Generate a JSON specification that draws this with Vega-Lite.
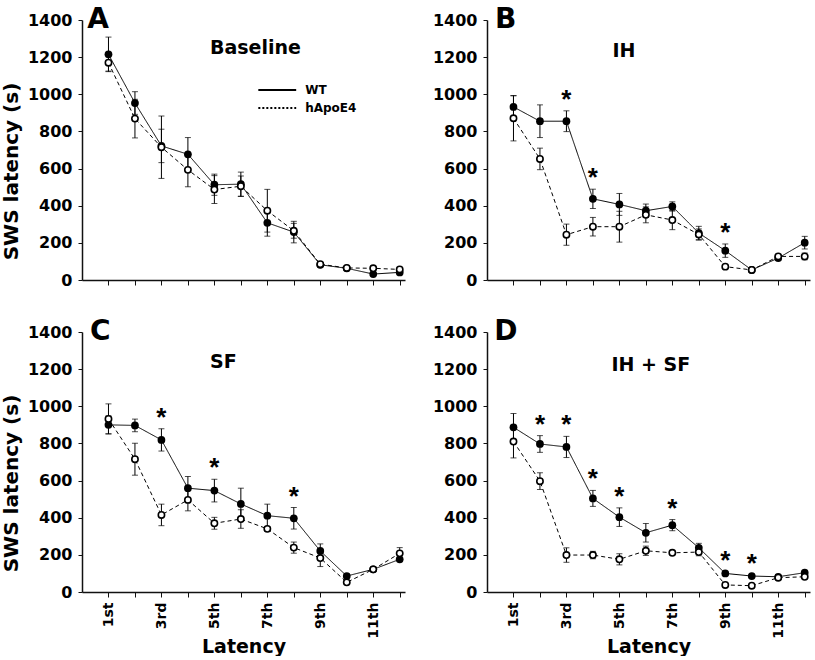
{
  "$schema": "https://vega.github.io/schema/vega-lite/v6.json",
  "padding": {"left": 1, "top": 6, "right": 0, "bottom": 0},
  "background": "white",
  "config": {
    "view": {"stroke": null},
    "axis": {"domainColor": "#111", "domainWidth": 1.5, "tickColor": "#111", "tickWidth": 1, "tickSize": 5, "grid": false,
      "labelOverlap": false, "labelBound": false,
      "labelFont": "DejaVu Sans", "labelFontWeight": "bold", "labelFontSize": 16, "labelColor": "#000",
      "titleFont": "DejaVu Sans", "titleFontWeight": "bold", "titleColor": "#000"},
    "text": {"font": "DejaVu Sans", "fontWeight": "bold", "color": "#000"}
  },
  "datasets": {
    "pts": [
      {"panel":"A","group":"WT","x":1,"mean":1215,"se":93},
      {"panel":"A","group":"WT","x":2,"mean":953,"se":61},
      {"panel":"A","group":"WT","x":3,"mean":722,"se":90},
      {"panel":"A","group":"WT","x":4,"mean":677,"se":90},
      {"panel":"A","group":"WT","x":5,"mean":513,"se":57},
      {"panel":"A","group":"WT","x":6,"mean":516,"se":65},
      {"panel":"A","group":"WT","x":7,"mean":308,"se":72},
      {"panel":"A","group":"WT","x":8,"mean":258,"se":58},
      {"panel":"A","group":"WT","x":9,"mean":82,"se":10},
      {"panel":"A","group":"WT","x":10,"mean":63,"se":8},
      {"panel":"A","group":"WT","x":11,"mean":32,"se":8},
      {"panel":"A","group":"WT","x":12,"mean":41,"se":8},
      {"panel":"A","group":"hApoE4","x":1,"mean":1170,"se":45},
      {"panel":"A","group":"hApoE4","x":2,"mean":869,"se":104},
      {"panel":"A","group":"hApoE4","x":3,"mean":715,"se":168},
      {"panel":"A","group":"hApoE4","x":4,"mean":593,"se":91},
      {"panel":"A","group":"hApoE4","x":5,"mean":487,"se":75},
      {"panel":"A","group":"hApoE4","x":6,"mean":505,"se":55},
      {"panel":"A","group":"hApoE4","x":7,"mean":373,"se":115},
      {"panel":"A","group":"hApoE4","x":8,"mean":265,"se":40},
      {"panel":"A","group":"hApoE4","x":9,"mean":85,"se":8},
      {"panel":"A","group":"hApoE4","x":10,"mean":65,"se":8},
      {"panel":"A","group":"hApoE4","x":11,"mean":63,"se":8},
      {"panel":"A","group":"hApoE4","x":12,"mean":57,"se":8},
      {"panel":"B","group":"WT","x":1,"mean":932,"se":60},
      {"panel":"B","group":"WT","x":2,"mean":855,"se":88},
      {"panel":"B","group":"WT","x":3,"mean":855,"se":56,"sig":true},
      {"panel":"B","group":"WT","x":4,"mean":437,"se":52,"sig":true},
      {"panel":"B","group":"WT","x":5,"mean":407,"se":59},
      {"panel":"B","group":"WT","x":6,"mean":373,"se":36},
      {"panel":"B","group":"WT","x":7,"mean":396,"se":25},
      {"panel":"B","group":"WT","x":8,"mean":253,"se":36},
      {"panel":"B","group":"WT","x":9,"mean":158,"se":36,"sig":true},
      {"panel":"B","group":"WT","x":10,"mean":54,"se":8},
      {"panel":"B","group":"WT","x":11,"mean":118,"se":12},
      {"panel":"B","group":"WT","x":12,"mean":201,"se":34},
      {"panel":"B","group":"hApoE4","x":1,"mean":871,"se":122},
      {"panel":"B","group":"hApoE4","x":2,"mean":652,"se":58},
      {"panel":"B","group":"hApoE4","x":3,"mean":244,"se":57},
      {"panel":"B","group":"hApoE4","x":4,"mean":287,"se":50},
      {"panel":"B","group":"hApoE4","x":5,"mean":287,"se":83},
      {"panel":"B","group":"hApoE4","x":6,"mean":351,"se":43},
      {"panel":"B","group":"hApoE4","x":7,"mean":323,"se":52},
      {"panel":"B","group":"hApoE4","x":8,"mean":245,"se":30},
      {"panel":"B","group":"hApoE4","x":9,"mean":72,"se":10},
      {"panel":"B","group":"hApoE4","x":10,"mean":54,"se":8},
      {"panel":"B","group":"hApoE4","x":11,"mean":127,"se":12},
      {"panel":"B","group":"hApoE4","x":12,"mean":127,"se":18},
      {"panel":"C","group":"WT","x":1,"mean":900,"se":48},
      {"panel":"C","group":"WT","x":2,"mean":897,"se":34},
      {"panel":"C","group":"WT","x":3,"mean":819,"se":60,"sig":true},
      {"panel":"C","group":"WT","x":4,"mean":559,"se":63},
      {"panel":"C","group":"WT","x":5,"mean":546,"se":61,"sig":true},
      {"panel":"C","group":"WT","x":6,"mean":474,"se":85},
      {"panel":"C","group":"WT","x":7,"mean":411,"se":62},
      {"panel":"C","group":"WT","x":8,"mean":397,"se":58,"sig":true},
      {"panel":"C","group":"WT","x":9,"mean":221,"se":38},
      {"panel":"C","group":"WT","x":10,"mean":86,"se":10},
      {"panel":"C","group":"WT","x":11,"mean":122,"se":10},
      {"panel":"C","group":"WT","x":12,"mean":176,"se":10},
      {"panel":"C","group":"hApoE4","x":1,"mean":932,"se":81},
      {"panel":"C","group":"hApoE4","x":2,"mean":715,"se":86},
      {"panel":"C","group":"hApoE4","x":3,"mean":415,"se":58},
      {"panel":"C","group":"hApoE4","x":4,"mean":496,"se":59},
      {"panel":"C","group":"hApoE4","x":5,"mean":370,"se":32},
      {"panel":"C","group":"hApoE4","x":6,"mean":393,"se":50},
      {"panel":"C","group":"hApoE4","x":7,"mean":340,"se":12},
      {"panel":"C","group":"hApoE4","x":8,"mean":239,"se":30},
      {"panel":"C","group":"hApoE4","x":9,"mean":183,"se":46},
      {"panel":"C","group":"hApoE4","x":10,"mean":52,"se":10},
      {"panel":"C","group":"hApoE4","x":11,"mean":122,"se":10},
      {"panel":"C","group":"hApoE4","x":12,"mean":208,"se":31},
      {"panel":"D","group":"WT","x":1,"mean":887,"se":74},
      {"panel":"D","group":"WT","x":2,"mean":797,"se":45,"sig":true},
      {"panel":"D","group":"WT","x":3,"mean":781,"se":57,"sig":true},
      {"panel":"D","group":"WT","x":4,"mean":504,"se":43,"sig":true},
      {"panel":"D","group":"WT","x":5,"mean":403,"se":50,"sig":true},
      {"panel":"D","group":"WT","x":6,"mean":319,"se":50},
      {"panel":"D","group":"WT","x":7,"mean":360,"se":30,"sig":true},
      {"panel":"D","group":"WT","x":8,"mean":238,"se":24},
      {"panel":"D","group":"WT","x":9,"mean":100,"se":10,"sig":true},
      {"panel":"D","group":"WT","x":10,"mean":86,"se":8,"sig":true},
      {"panel":"D","group":"WT","x":11,"mean":82,"se":8},
      {"panel":"D","group":"WT","x":12,"mean":104,"se":8},
      {"panel":"D","group":"hApoE4","x":1,"mean":810,"se":88},
      {"panel":"D","group":"hApoE4","x":2,"mean":597,"se":45},
      {"panel":"D","group":"hApoE4","x":3,"mean":199,"se":39},
      {"panel":"D","group":"hApoE4","x":4,"mean":199,"se":20},
      {"panel":"D","group":"hApoE4","x":5,"mean":176,"se":30},
      {"panel":"D","group":"hApoE4","x":6,"mean":222,"se":25},
      {"panel":"D","group":"hApoE4","x":7,"mean":211,"se":10},
      {"panel":"D","group":"hApoE4","x":8,"mean":215,"se":20},
      {"panel":"D","group":"hApoE4","x":9,"mean":38,"se":8},
      {"panel":"D","group":"hApoE4","x":10,"mean":34,"se":8},
      {"panel":"D","group":"hApoE4","x":11,"mean":77,"se":8},
      {"panel":"D","group":"hApoE4","x":12,"mean":82,"se":8}
    ]
  },
  "columns": 2,
  "spacing": {"row": 52, "column": 82},
  "bounds": "flush",
  "concat": [
    {
      "width": 323, "height": 260,
      "data": {"name": "pts"},
      "encoding": {
        "x": {"field": "x", "type": "quantitative", "title": null, "scale": {"domain": [0, 12.2], "nice": false, "zero": false},
          "axis": {"values": [1,2,3,4,5,6,7,8,9,10,11,12], "labels": false}},
        "y": {"field": "mean", "type": "quantitative", "title": "SWS latency (s)", "scale": {"domain": [0, 1400], "nice": false},
          "axis": {"values": [0,200,400,600,800,1000,1200,1400], "format": "d", "tickSize": 4, "labelPadding": 6, "titleFontSize": 20, "titleX": -71, "titleY": 151, "titleBaseline": "middle"}}
      },
      "layer": [
        {"transform": [{"filter": "datum.panel == 'A'"}],
         "mark": {"type": "line", "color": "#000", "strokeWidth": 1},
         "encoding": {"strokeDash": {"field": "group", "type": "nominal", "scale": {"domain": ["WT", "hApoE4"], "range": [[1, 0], [4, 3]]}, "legend": null}}},
        {"transform": [{"filter": "datum.panel == 'A'"}],
         "mark": {"type": "errorbar", "color": "#000", "ticks": {"size": 6}, "rule": {"strokeWidth": 1}},
         "encoding": {"yError": {"field": "se"}}},
        {"transform": [{"filter": "datum.panel == 'A' && datum.group == 'WT'"}],
         "mark": {"type": "circle", "size": 60, "color": "#000", "opacity": 1}},
        {"transform": [{"filter": "datum.panel == 'A' && datum.group == 'hApoE4'"}],
         "mark": {"type": "point", "shape": "circle", "size": 40, "filled": true, "fill": "#fff", "stroke": "#000", "strokeWidth": 1.6, "opacity": 1}},
        {"transform": [{"filter": "datum.panel == 'A' && datum.group == 'WT' && datum.x == 1"}],
         "mark": {"type": "text", "text": "A", "fontSize": 28, "align": "left", "baseline": "alphabetic"},
         "encoding": {"x": {"datum": 0.2}, "y": {"datum": 1355}}},
        {"transform": [{"filter": "datum.panel == 'A' && datum.group == 'WT' && datum.x == 1"}],
         "mark": {"type": "text", "text": "Baseline", "fontSize": 19, "align": "center", "baseline": "middle"},
         "encoding": {"x": {"datum": 6.55}, "y": {"datum": 1249}}},
        {"transform": [{"filter": "datum.panel == 'A' && datum.group == 'WT' && datum.x == 1"}],
         "mark": {"type": "rule", "color": "#000", "strokeWidth": 2},
         "encoding": {"x": {"datum": 6.66}, "x2": {"datum": 8.09}, "y": {"datum": 1023}}},
        {"transform": [{"filter": "datum.panel == 'A' && datum.group == 'WT' && datum.x == 1"}],
         "mark": {"type": "rule", "color": "#000", "strokeWidth": 2, "strokeDash": [2, 2]},
         "encoding": {"x": {"datum": 6.66}, "x2": {"datum": 8.09}, "y": {"datum": 926}}},
        {"transform": [{"filter": "datum.panel == 'A' && datum.group == 'WT' && datum.x == 1"}],
         "mark": {"type": "text", "text": "WT", "fontSize": 12, "align": "left", "baseline": "middle"},
         "encoding": {"x": {"datum": 8.43}, "y": {"datum": 1023}}},
        {"transform": [{"filter": "datum.panel == 'A' && datum.group == 'WT' && datum.x == 1"}],
         "mark": {"type": "text", "text": "hApoE4", "fontSize": 12, "align": "left", "baseline": "middle"},
         "encoding": {"x": {"datum": 8.43}, "y": {"datum": 926}}}
      ]
    },
    {
      "width": 323, "height": 260,
      "data": {"name": "pts"},
      "encoding": {
        "x": {"field": "x", "type": "quantitative", "title": null, "scale": {"domain": [0, 12.2], "nice": false, "zero": false},
          "axis": {"values": [1,2,3,4,5,6,7,8,9,10,11,12], "labels": false}},
        "y": {"field": "mean", "type": "quantitative", "title": null, "scale": {"domain": [0, 1400], "nice": false},
          "axis": {"values": [0,200,400,600,800,1000,1200,1400], "format": "d", "tickSize": 4, "labelPadding": 6}}
      },
      "layer": [
        {"transform": [{"filter": "datum.panel == 'B'"}],
         "mark": {"type": "line", "color": "#000", "strokeWidth": 1},
         "encoding": {"strokeDash": {"field": "group", "type": "nominal", "scale": {"domain": ["WT", "hApoE4"], "range": [[1, 0], [4, 3]]}, "legend": null}}},
        {"transform": [{"filter": "datum.panel == 'B'"}],
         "mark": {"type": "errorbar", "color": "#000", "ticks": {"size": 6}, "rule": {"strokeWidth": 1}},
         "encoding": {"yError": {"field": "se"}}},
        {"transform": [{"filter": "datum.panel == 'B' && datum.group == 'WT'"}],
         "mark": {"type": "circle", "size": 60, "color": "#000", "opacity": 1}},
        {"transform": [{"filter": "datum.panel == 'B' && datum.group == 'hApoE4'"}],
         "mark": {"type": "point", "shape": "circle", "size": 40, "filled": true, "fill": "#fff", "stroke": "#000", "strokeWidth": 1.6, "opacity": 1}},
        {"transform": [{"filter": "datum.panel == 'B' && datum.sig"}, {"calculate": "datum.mean + datum.se", "as": "hi"}],
         "mark": {"type": "text", "text": "*", "font": "Liberation Sans", "fontSize": 26, "baseline": "alphabetic", "dy": -3},
         "encoding": {"y": {"field": "hi", "type": "quantitative", "title": null}}},
        {"transform": [{"filter": "datum.panel == 'B' && datum.group == 'WT' && datum.x == 1"}],
         "mark": {"type": "text", "text": "B", "fontSize": 28, "align": "left", "baseline": "alphabetic"},
         "encoding": {"x": {"datum": 0.3}, "y": {"datum": 1355}}},
        {"transform": [{"filter": "datum.panel == 'B' && datum.group == 'WT' && datum.x == 1"}],
         "mark": {"type": "text", "text": "IH", "fontSize": 19, "align": "center", "baseline": "middle"},
         "encoding": {"x": {"datum": 5.17}, "y": {"datum": 1233}}}
      ]
    },
    {
      "width": 323, "height": 260,
      "data": {"name": "pts"},
      "encoding": {
        "x": {"field": "x", "type": "quantitative", "title": "Latency", "scale": {"domain": [0, 12.2], "nice": false, "zero": false},
          "axis": {"values": [1,2,3,4,5,6,7,8,9,10,11,12], "labelExpr": "['','1st','','3rd','','5th','','7th','','9th','','11th',''][datum.value]", "labelAngle": 270, "labelFontSize": 14, "labelPadding": 5, "labelFlush": false, "titleFontSize": 19, "titleY": 45, "titleBaseline": "top"}},
        "y": {"field": "mean", "type": "quantitative", "title": "SWS latency (s)", "scale": {"domain": [0, 1400], "nice": false},
          "axis": {"values": [0,200,400,600,800,1000,1200,1400], "format": "d", "tickSize": 4, "labelPadding": 6, "titleFontSize": 20, "titleX": -71, "titleY": 151, "titleBaseline": "middle"}}
      },
      "layer": [
        {"transform": [{"filter": "datum.panel == 'C'"}],
         "mark": {"type": "line", "color": "#000", "strokeWidth": 1},
         "encoding": {"strokeDash": {"field": "group", "type": "nominal", "scale": {"domain": ["WT", "hApoE4"], "range": [[1, 0], [4, 3]]}, "legend": null}}},
        {"transform": [{"filter": "datum.panel == 'C'"}],
         "mark": {"type": "errorbar", "color": "#000", "ticks": {"size": 6}, "rule": {"strokeWidth": 1}},
         "encoding": {"yError": {"field": "se"}}},
        {"transform": [{"filter": "datum.panel == 'C' && datum.group == 'WT'"}],
         "mark": {"type": "circle", "size": 60, "color": "#000", "opacity": 1}},
        {"transform": [{"filter": "datum.panel == 'C' && datum.group == 'hApoE4'"}],
         "mark": {"type": "point", "shape": "circle", "size": 40, "filled": true, "fill": "#fff", "stroke": "#000", "strokeWidth": 1.6, "opacity": 1}},
        {"transform": [{"filter": "datum.panel == 'C' && datum.sig"}, {"calculate": "datum.mean + datum.se", "as": "hi"}],
         "mark": {"type": "text", "text": "*", "font": "Liberation Sans", "fontSize": 26, "baseline": "alphabetic", "dy": -3},
         "encoding": {"y": {"field": "hi", "type": "quantitative", "title": "SWS latency (s)"}}},
        {"transform": [{"filter": "datum.panel == 'C' && datum.group == 'WT' && datum.x == 1"}],
         "mark": {"type": "text", "text": "C", "fontSize": 28, "align": "left", "baseline": "alphabetic"},
         "encoding": {"x": {"datum": 0.3}, "y": {"datum": 1355}}},
        {"transform": [{"filter": "datum.panel == 'C' && datum.group == 'WT' && datum.x == 1"}],
         "mark": {"type": "text", "text": "SF", "fontSize": 19, "align": "center", "baseline": "middle"},
         "encoding": {"x": {"datum": 5.34}, "y": {"datum": 1238}}}
      ]
    },
    {
      "width": 323, "height": 260,
      "data": {"name": "pts"},
      "encoding": {
        "x": {"field": "x", "type": "quantitative", "title": "Latency", "scale": {"domain": [0, 12.2], "nice": false, "zero": false},
          "axis": {"values": [1,2,3,4,5,6,7,8,9,10,11,12], "labelExpr": "['','1st','','3rd','','5th','','7th','','9th','','11th',''][datum.value]", "labelAngle": 270, "labelFontSize": 14, "labelPadding": 5, "labelFlush": false, "titleFontSize": 19, "titleY": 45, "titleBaseline": "top"}},
        "y": {"field": "mean", "type": "quantitative", "title": null, "scale": {"domain": [0, 1400], "nice": false},
          "axis": {"values": [0,200,400,600,800,1000,1200,1400], "format": "d", "tickSize": 4, "labelPadding": 6}}
      },
      "layer": [
        {"transform": [{"filter": "datum.panel == 'D'"}],
         "mark": {"type": "line", "color": "#000", "strokeWidth": 1},
         "encoding": {"strokeDash": {"field": "group", "type": "nominal", "scale": {"domain": ["WT", "hApoE4"], "range": [[1, 0], [4, 3]]}, "legend": null}}},
        {"transform": [{"filter": "datum.panel == 'D'"}],
         "mark": {"type": "errorbar", "color": "#000", "ticks": {"size": 6}, "rule": {"strokeWidth": 1}},
         "encoding": {"yError": {"field": "se"}}},
        {"transform": [{"filter": "datum.panel == 'D' && datum.group == 'WT'"}],
         "mark": {"type": "circle", "size": 60, "color": "#000", "opacity": 1}},
        {"transform": [{"filter": "datum.panel == 'D' && datum.group == 'hApoE4'"}],
         "mark": {"type": "point", "shape": "circle", "size": 40, "filled": true, "fill": "#fff", "stroke": "#000", "strokeWidth": 1.6, "opacity": 1}},
        {"transform": [{"filter": "datum.panel == 'D' && datum.sig"}, {"calculate": "datum.mean + datum.se", "as": "hi"}],
         "mark": {"type": "text", "text": "*", "font": "Liberation Sans", "fontSize": 26, "baseline": "alphabetic", "dy": -3},
         "encoding": {"y": {"field": "hi", "type": "quantitative", "title": null}}},
        {"transform": [{"filter": "datum.panel == 'D' && datum.group == 'WT' && datum.x == 1"}],
         "mark": {"type": "text", "text": "D", "fontSize": 28, "align": "left", "baseline": "alphabetic"},
         "encoding": {"x": {"datum": 0.27}, "y": {"datum": 1355}}},
        {"transform": [{"filter": "datum.panel == 'D' && datum.group == 'WT' && datum.x == 1"}],
         "mark": {"type": "text", "text": "IH + SF", "fontSize": 19, "align": "center", "baseline": "middle"},
         "encoding": {"x": {"datum": 6.19}, "y": {"datum": 1222}}}
      ]
    }
  ]
}
